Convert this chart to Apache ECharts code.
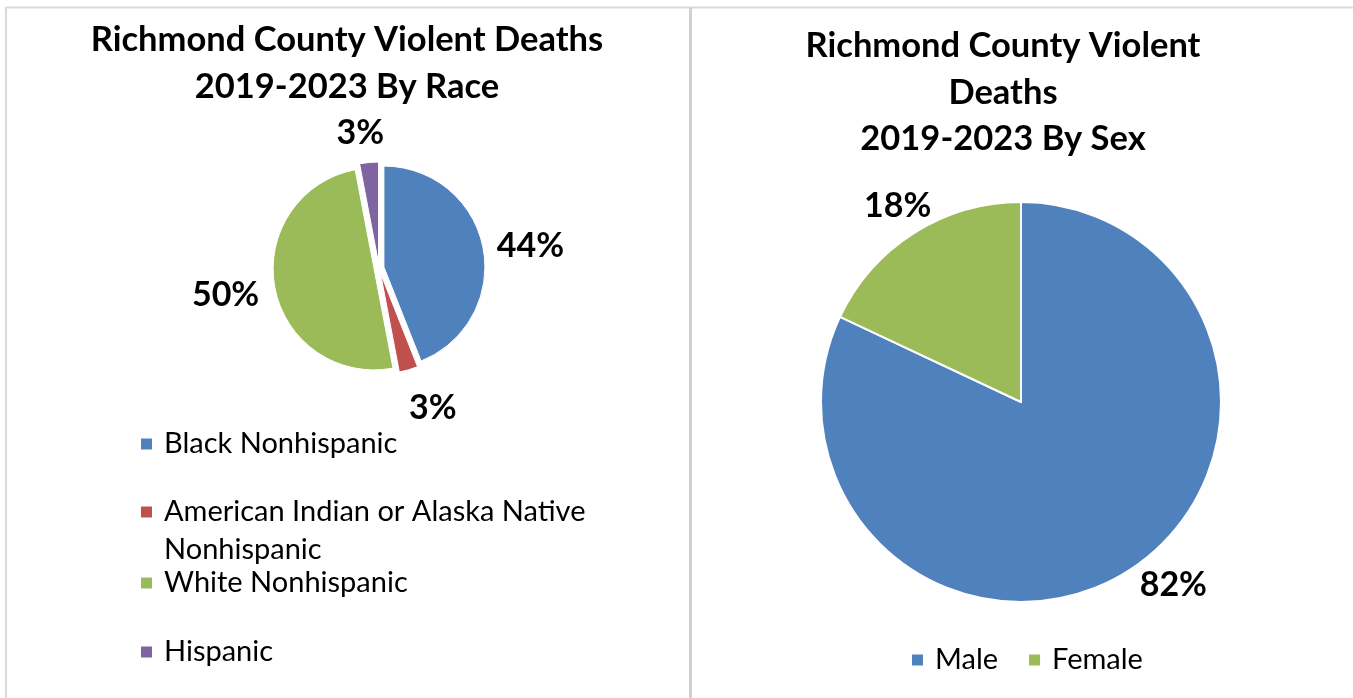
<!DOCTYPE html>
<html>
<head>
<meta charset="utf-8">
<script src="https://cdn.jsdelivr.net/npm/echarts@6/dist/echarts.min.js"></script>
<style>
  html, body { margin: 0; padding: 0; background: #fff; }
  #main { width: 1353px; height: 698px; }
</style>
</head>
<body>
<div id="main"></div>
<script>
// race breakdown (percent of deaths)
var raceNames = ['Black Nonhispanic', 'American Indian or Alaska Native\nNonhispanic', 'White Nonhispanic', 'Hispanic']
var raceValues = [44, 3, 50, 3]
// sex breakdown
var sexNames = ['Male', 'Female']
var sexValues = [82, 18]

var raceColors = ['#4f81bd', '#c0504d', '#9bbb59', '#8064a2']
var sexColors = ['#4f81bd', '#9bbb59']
var FONT = 'Lato'

// small nudges so the % labels sit where Excel put them
var raceLabelShift = [[3, 5], [8, 0], [-5, 0], [0, 10]]
var sexLabelShift = [[23, -13], [6, 0]]

var myChart = echarts.init(document.getElementById('main'))

function pctLabel (p) {
  return Math.round(p.percent) + '%'
}

var labelStyle = {
  show: true,
  position: 'outside',
  formatter: pctLabel,
  fontFamily: FONT,
  fontWeight: 'bold',
  fontSize: 34,
  color: '#000'
}

var legendText = { fontFamily: FONT, fontSize: 29, color: '#000', lineHeight: 38, padding: [0, 0, 0, 6] }

// one legend per race item so the spacing matches the original layout
var raceLegendTops = [425, 455, 564, 633]
var raceLegends = raceNames.map(function (name, i) {
  var twoLines = name.indexOf('\n') >= 0
  return {
    data: [name],
    orient: 'vertical',
    left: 139,
    top: raceLegendTops[i],
    padding: 0,
    icon: 'rect',
    itemWidth: 13,
    itemHeight: 13,
    selectedMode: false,
    // blank first line keeps the marker level with the first text line
    formatter: twoLines ? function (n) { return ' \n' + n } : null,
    textStyle: legendText
  }
})

var option = {
  animation: false,
  color: raceColors,
  graphic: [
    { type: 'line', shape: { x1: 5, y1: 7.5, x2: 1353, y2: 7.5 }, style: { stroke: '#d9d9d9', lineWidth: 2 } },
    { type: 'line', shape: { x1: 6, y1: 7, x2: 6, y2: 698 }, style: { stroke: '#d9d9d9', lineWidth: 2 } },
    { type: 'line', shape: { x1: 690.5, y1: 7, x2: 690.5, y2: 698 }, style: { stroke: '#d0d0d0', lineWidth: 3 } }
  ],
  title: [
    {
      text: 'Richmond County Violent Deaths\n2019-2023 By Race',
      left: 347,
      top: 16,
      padding: 0,
      textAlign: 'center',
      textStyle: { fontFamily: FONT, fontWeight: 'bold', fontSize: 34.5, lineHeight: 47, color: '#000' }
    },
    {
      text: 'Richmond County Violent\nDeaths\n2019-2023 By Sex',
      left: 1003,
      top: 23,
      padding: 0,
      textAlign: 'center',
      textStyle: { fontFamily: FONT, fontWeight: 'bold', fontSize: 34.5, lineHeight: 46.5, color: '#000' }
    }
  ],
  legend: raceLegends.concat([
    {
      data: sexNames,
      orient: 'horizontal',
      left: 910,
      top: 641,
      padding: 0,
      icon: 'rect',
      itemWidth: 13,
      itemHeight: 13,
      itemGap: 29,
      selectedMode: false,
      textStyle: legendText
    }
  ]),
  series: [
    {
      name: 'By Race',
      type: 'pie',
      center: [379, 268],
      radius: 101,
      startAngle: 90,
      clockwise: true,
      selectedMode: 'multiple',
      selectedOffset: 5,
      silent: true,
      itemStyle: { borderColor: '#fff', borderWidth: 1 },
      select: { itemStyle: { borderColor: '#fff', borderWidth: 1 } },
      label: labelStyle,
      labelLine: { show: false, length: 40, length2: 0 },
      labelLayout: function (p) {
        var s = raceLabelShift[p.dataIndex]
        return { align: 'center', verticalAlign: 'middle', dx: s[0], dy: s[1] }
      },
      data: raceNames.map(function (n, i) {
        return { name: n, value: raceValues[i], selected: true, itemStyle: { color: raceColors[i] } }
      })
    },
    {
      name: 'By Sex',
      type: 'pie',
      center: [1021, 402],
      radius: 200,
      startAngle: 90,
      clockwise: true,
      silent: true,
      itemStyle: { borderColor: '#fff', borderWidth: 2 },
      label: labelStyle,
      labelLine: { show: false, length: 32, length2: 0 },
      labelLayout: function (p) {
        var s = sexLabelShift[p.dataIndex]
        return { align: 'center', verticalAlign: 'middle', dx: s[0], dy: s[1] }
      },
      data: sexNames.map(function (n, i) {
        return { name: n, value: sexValues[i], itemStyle: { color: sexColors[i] } }
      })
    }
  ]
}

myChart.setOption(option)
</script>
</body>
</html>
